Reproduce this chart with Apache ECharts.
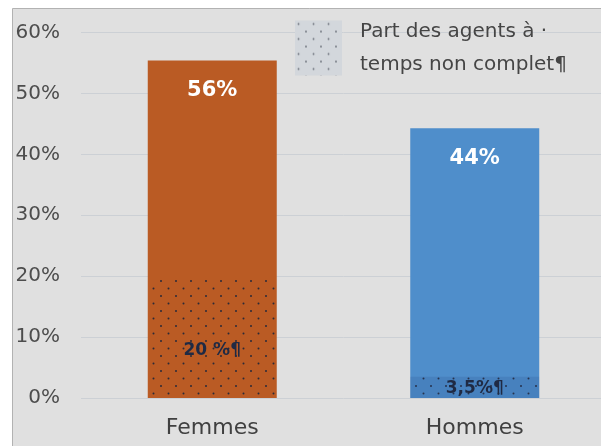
<!DOCTYPE html>
<html><head><meta charset="utf-8">
<script src="https://cdn.jsdelivr.net/npm/echarts@6/dist/echarts.min.js"></script>
<style>html,body{margin:0;padding:0;background:#fff;overflow:hidden;width:601px;height:446px}#c{width:606px;height:446px}</style>
</head><body><div id="c"></div>
<script>
// ---- data ----
const categories = ['Femmes', 'Hommes'];
const shareValues = [55.4, 44.3];          // share of each sex (bar height, %)
const shareLabels = ['56%', '44%'];
const partValues = [20, 3.5];              // part of agents working part-time (%)
const partLabels = ['20 %¶', '3,5%¶'];
const legendName = 'Part des agents à ·\ntemps non complet¶';
const yMin = 0, yMax = 60, yStep = 10;

// ---- styling helpers ----
const FONT = 'DejaVu Sans';
const barColors = ['#BA5B24', '#4F8ECB'];
function makePattern(bg, dot, r) {
  const c = document.createElement('canvas');
  c.width = 15; c.height = 15;
  const g = c.getContext('2d');
  if (bg) { g.fillStyle = bg; g.fillRect(0, 0, 15, 15); }
  g.fillStyle = dot;
  g.beginPath(); g.arc(3.5, 3.5, r, 0, Math.PI * 2); g.fill();
  g.beginPath(); g.arc(11, 11, r, 0, Math.PI * 2); g.fill();
  return { image: c, repeat: 'repeat' };
}
const overlayPatterns = [
  makePattern(null, '#2a2a38', 1.0),
  makePattern('rgba(30,50,110,0.14)', '#26324d', 1.0)
];
const legendPattern = makePattern('#d3d7dc', '#6b707a', 0.9);
const overlayOffsets = [[0, 13], [0, 1]];

const chart = echarts.init(document.getElementById('c'), null, { renderer: 'canvas' });
chart.setOption({
  backgroundColor: '#ffffff',
  animation: false,
  graphic: [{
    type: 'rect', z: -100, silent: true,
    shape: { x: 12.5, y: 8.5, width: 620, height: 460 },
    style: { fill: '#e0e0e0', stroke: '#b2b2b2', lineWidth: 1 }
  }],
  grid: { left: 81, right: 0, top: 32.5, bottom: 48, containLabel: false },
  legend: {
    left: 290, top: 10,
    itemWidth: 47, itemHeight: 55, itemGap: 0,
    icon: 'rect',
    data: [{ name: legendName, itemStyle: { color: legendPattern, borderWidth: 0 } }],
    textStyle: { fontFamily: FONT, fontSize: 20, lineHeight: 33, color: '#454545', padding: [0, 0, 0, 13] }
  },
  xAxis: {
    type: 'category', data: categories,
    axisLine: { show: false }, axisTick: { show: false },
    axisLabel: { fontFamily: FONT, fontSize: 22, color: '#404040', margin: 19 }
  },
  yAxis: {
    type: 'value', min: yMin, max: yMax, interval: yStep,
    axisLine: { show: false }, axisTick: { show: false },
    axisLabel: { formatter: '{value}%', fontFamily: FONT, fontSize: 20, color: '#4d4d4d', margin: 21 },
    splitLine: { lineStyle: { color: '#ccd0d5', width: 1 } }
  },
  series: [{
    name: 'Répartition', type: 'bar', barWidth: 129,
    data: shareValues.map((v, i) => ({
      value: v, itemStyle: { color: barColors[i] },
      label: { formatter: shareLabels[i] }
    })),
    label: {
      show: true, position: 'insideTop', distance: 20,
      fontFamily: FONT, fontSize: 21, fontWeight: 'bold', color: '#ffffff'
    }
  }, {
    name: legendName, type: 'bar', barWidth: 129, barGap: '-100%', z: 3,
    data: partValues.map((v, i) => ({
      value: v,
      itemStyle: { color: overlayPatterns[i] },
      label: { offset: overlayOffsets[i], formatter: partLabels[i] }
    })),
    label: {
      show: true, position: 'inside',
      fontFamily: FONT, fontSize: 17, fontWeight: 'bold', color: '#1f2a44'
    }
  }]
});
</script>
</body></html>
